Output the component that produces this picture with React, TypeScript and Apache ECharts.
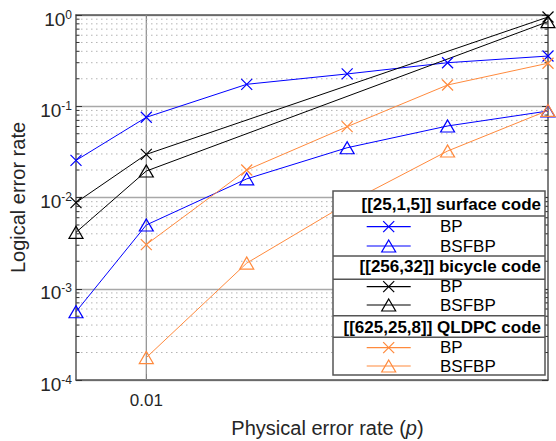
import React, { useEffect, useRef } from "react";
import * as echarts from "echarts";

// ---- data ----
const pAll = [0.003, 0.01, 0.02, 0.03, 0.04, 0.05];
const pBicycle = [0.003, 0.01, 0.05];
const pQldpc = [0.01, 0.02, 0.03, 0.04, 0.05];

const surfaceBP = [0.0255, 0.0757, 0.174, 0.226, 0.3, 0.355];
const surfaceBSFBP = [0.00056, 0.005, 0.016, 0.0351, 0.0608, 0.0887];
const bicycleBP = [0.0088, 0.0297, 0.95];
const bicycleBSFBP = [0.00415, 0.0195, 0.845];
const qldpcBP = [0.00305, 0.02, 0.0597, 0.171, 0.296];
const qldpcBSFBP = [0.000176, 0.00191, 0.0086, 0.0323, 0.09];

const xTickValues = [0.01];
const yMin = 1e-4;
const yMax = 1;
const minorMultipliers = [2, 3, 4, 5, 6, 7, 8, 9];
const minorDecades = [1e-4, 1e-3, 1e-2, 1e-1];

const legendGroups = ["[[25,1,5]] surface code", "[[256,32]] bicycle code", "[[625,25,8]] QLDPC code"];
const legendItems = ["BP", "BSFBP"];

const BLUE = "#0000ff";
const BLACK = "#000000";
const ORANGE = "#ff8a3d";
const FONT = "Liberation Sans, Arial, sans-serif";

const CROSS = "path://M0,0L10,10M10,0L0,10";
const LZ = 100;

function zip(xs: number[], ys: number[]) {
  return xs.map((x, i) => [x, ys[i]]);
}

function lineSeries(name: string, xs: number[], ys: number[], color: string, marker: "x" | "tri") {
  return {
    name,
    type: "line",
    data: zip(xs, ys),
    clip: false,
    symbol: marker === "x" ? CROSS : "triangle",
    symbolSize: marker === "x" ? [11, 11] : [14, 12],
    showAllSymbol: true,
    lineStyle: { color, width: 1 },
    itemStyle: { color: "rgba(0,0,0,0)", borderColor: color, borderWidth: 1.2 },
    emphasis: { disabled: true },
    z: 3,
  };
}

function legendEntry(y: number, color: string, marker: "x" | "tri", label: string) {
  const cx = 388.7;
  const children: any[] = [
    { type: "line", z: LZ + 1, shape: { x1: 366.7, y1: y, x2: 410.7, y2: y }, style: { stroke: color, lineWidth: 1.2 } },
  ];
  if (marker === "x") {
    children.push({ type: "line", z: LZ + 1, shape: { x1: cx - 5.5, y1: y - 5.5, x2: cx + 5.5, y2: y + 5.5 }, style: { stroke: color, lineWidth: 1.2 } });
    children.push({ type: "line", z: LZ + 1, shape: { x1: cx - 5.5, y1: y + 5.5, x2: cx + 5.5, y2: y - 5.5 }, style: { stroke: color, lineWidth: 1.2 } });
  } else {
    children.push({
      type: "polygon",
      z: LZ + 1,
      shape: { points: [[cx, y - 6], [cx + 7, y + 6], [cx - 7, y + 6]] },
      style: { fill: "rgba(0,0,0,0)", stroke: color, lineWidth: 1.2 },
    });
  }
  children.push({
    type: "text",
    z: LZ + 1,
    x: 440,
    y: y,
    style: { text: label, font: `17px ${FONT}`, fill: "#000", textVerticalAlign: "middle", textAlign: "left" },
  });
  return children;
}

export default function App() {
  const ref = useRef<HTMLDivElement>(null);
  useEffect(() => {
    if (!ref.current) return;
    const chart = echarts.init(ref.current, undefined, { renderer: "svg" });

    const minorVals: number[] = [];
    minorDecades.forEach((d) => minorMultipliers.forEach((m) => minorVals.push(m * d)));

    const sepYs = [216, 256, 279.3, 315.7, 337.3];
    const headerYs = [204.3, 266.7, 327.7];
    const colors = [BLUE, BLACK, ORANGE];
    const rowYs = [
      [226.7, 246],
      [286.7, 305],
      [347.7, 366],
    ];

    const legendChildren: any[] = [
      { type: "rect", z: LZ, shape: { x: 333, y: 191, width: 212, height: 184 }, style: { fill: "#fff", stroke: "#555", lineWidth: 1.5 } },
    ];
    sepYs.forEach((y) =>
      legendChildren.push({ type: "line", z: LZ + 1, shape: { x1: 333, y1: y, x2: 545, y2: y }, style: { stroke: "#555", lineWidth: 1.5 } })
    );
    legendGroups.forEach((g, i) => {
      legendChildren.push({
        type: "text",
        z: LZ + 1,
        x: 541,
        y: headerYs[i],
        style: { text: g, font: `bold 17px ${FONT}`, fill: "#000", textAlign: "right", textVerticalAlign: "middle" },
      });
      legendItems.forEach((it, j) => {
        legendEntry(rowYs[i][j], colors[i], j === 0 ? "x" : "tri", it).forEach((c) => legendChildren.push(c));
      });
    });

    const option: any = {
      animation: false,
      backgroundColor: "#fff",
      grid: { left: 76, top: 15, width: 472, height: 365, containLabel: false, outerBoundsMode: "none" },
      xAxis: [
        {
          type: "value",
          min: pAll[0],
          max: pAll[pAll.length - 1],
          position: "bottom",
          axisLine: { onZero: false, lineStyle: { color: "#555", width: 1.5 } },
          axisTick: { inside: true, length: 6, customValues: xTickValues, lineStyle: { color: "#333" } },
          axisLabel: {
            customValues: xTickValues,
            formatter: (v: number) => String(v),
            fontSize: 17,
            fontFamily: FONT,
            color: "#262626",
            margin: 12,
          },
          splitLine: { show: false },
          name: "Physical error rate ({i|p})",
          nameLocation: "middle",
          nameGap: 38,
          nameTextStyle: {
            fontSize: 20,
            fontFamily: FONT,
            color: "#262626",
            padding: [0, 0, 0, 31],
            rich: { i: { fontStyle: "italic", fontSize: 20, fontFamily: FONT, color: "#262626" } },
          },
        },
        {
          type: "value",
          min: pAll[0],
          max: pAll[pAll.length - 1],
          position: "top",
          axisLine: { onZero: false, lineStyle: { color: "#555", width: 1.5 } },
          axisTick: { inside: true, length: 6, customValues: xTickValues, lineStyle: { color: "#333" } },
          axisLabel: { show: false },
          splitLine: { show: false },
        },
      ],
      yAxis: [
        {
          type: "log",
          logBase: 10,
          min: yMin,
          max: yMax,
          position: "left",
          axisLine: { show: true, lineStyle: { color: "#555", width: 1.5 } },
          axisTick: { show: true, inside: true, length: 6, lineStyle: { color: "#333" } },
          splitLine: { show: true, lineStyle: { color: "#a8a8a8", width: 1.3 } },
          minorTick: { show: false },
          axisLabel: {
            margin: 4,
            padding: [7, 0, 0, 0],
            formatter: (v: number) => `{b|10}{s|${Math.round(Math.log10(v))}}`,
            rich: {
              b: { fontSize: 19, fontFamily: FONT, color: "#262626", lineHeight: 20, verticalAlign: "bottom", padding: [3, 0, 0, 0] },
              s: { fontSize: 12, fontFamily: FONT, color: "#262626", lineHeight: 12, verticalAlign: "top" },
            },
          },
          name: "Logical error rate",
          nameLocation: "middle",
          nameRotate: 90,
          nameGap: 48,
          nameTextStyle: { fontSize: 20, fontFamily: FONT, color: "#262626" },
        },
        {
          type: "log",
          logBase: 10,
          min: yMin,
          max: yMax,
          position: "right",
          axisLine: { show: true, lineStyle: { color: "#555", width: 1.5 } },
          axisTick: { show: true, inside: true, length: 6, lineStyle: { color: "#333" } },
          axisLabel: { show: false },
          splitLine: { show: false },
        },
      ],
      series: [
        {
          type: "custom",
          silent: true,
          clip: false,
          z: 1,
          data: minorVals.map((v) => [pAll[0], v]),
          renderItem: (params: any, api: any) => {
            const cs = params.coordSys;
            const v = api.value(1);
            const y = api.coord([pAll[0], v])[1];
            const children: any[] = [
              { type: "line", shape: { x1: cs.x, y1: y, x2: cs.x + cs.width, y2: y }, style: { stroke: "#b4b4b4", lineWidth: 1, lineDash: [1.5, 3.5] } },
              { type: "line", shape: { x1: cs.x, y1: y, x2: cs.x + 3.5, y2: y }, style: { stroke: "#333", lineWidth: 1 } },
              { type: "line", shape: { x1: cs.x + cs.width - 3.5, y1: y, x2: cs.x + cs.width, y2: y }, style: { stroke: "#333", lineWidth: 1 } },
            ];
            if (params.dataIndex === 0) {
              xTickValues.forEach((t) => {
                const x = api.coord([t, yMin])[0];
                children.push({ type: "line", shape: { x1: x, y1: cs.y, x2: x, y2: cs.y + cs.height }, style: { stroke: "#8c8c8c", lineWidth: 1.2 } });
              });
            }
            return { type: "group", children };
          },
        },
        lineSeries("surface BP", pAll, surfaceBP, BLUE, "x"),
        lineSeries("surface BSFBP", pAll, surfaceBSFBP, BLUE, "tri"),
        lineSeries("bicycle BP", pBicycle, bicycleBP, BLACK, "x"),
        lineSeries("bicycle BSFBP", pBicycle, bicycleBSFBP, BLACK, "tri"),
        lineSeries("QLDPC BP", pQldpc, qldpcBP, ORANGE, "x"),
        lineSeries("QLDPC BSFBP", pQldpc, qldpcBSFBP, ORANGE, "tri"),
      ],
      graphic: [{ type: "group", z: LZ, children: legendChildren }],
    };
    chart.setOption(option);
    return () => chart.dispose();
  }, []);
  return <div ref={ref} style={{ position: "absolute", left: 0, top: 0, width: 556, height: 441 }} />;
}
